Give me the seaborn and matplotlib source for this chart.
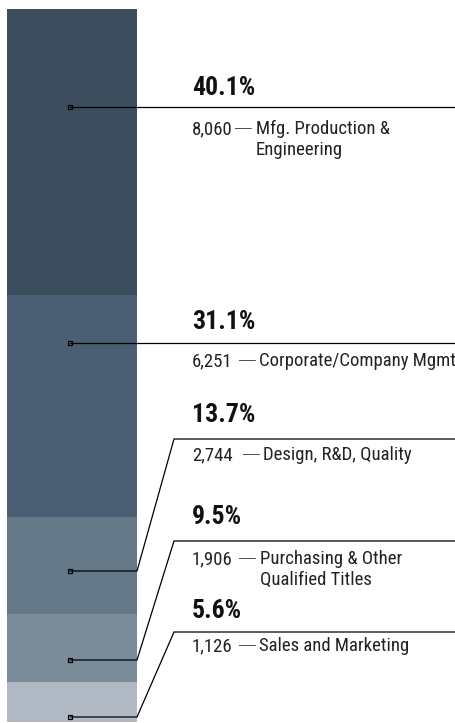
import numpy as np
import pandas as pd
import matplotlib
matplotlib.use("Agg")
import matplotlib.pyplot as plt
import seaborn as sns

# ==============================================================
# DATA
# ==============================================================
CATEGORIES = ["Mfg. Production &\nEngineering", "Corporate/Company Mgmt",
              "Design, R&D, Quality", "Purchasing & Other\nQualified Titles",
              "Sales and Marketing"]
COUNTS = [8060, 6251, 2744, 1906, 1126]
PCT_LABELS = ["40.1%", "31.1%", "13.7%", "9.5%", "5.6%"]
COUNT_LABELS = ["8,060", "6,251", "2,744", "1,906", "1,126"]
COLORS = ["#3b4d5c", "#4a5f73", "#647888", "#7a8b9a", "#b1b9c5"]

# ==============================================================
# LAYOUT (pixels, figure is 455 x 723)
# ==============================================================
W, H = 455, 723
BAR_LEFT, BAR_RIGHT, BAR_TOP, BAR_BOTTOM = 7, 137, 9, 722
MARKER_X = 70
MARKER_Y = [107, 343, 571, 660, 717]
LEADER_Y = [107, 343, 439, 541, 632]
KNEE_X = 174
TEXT_X = 192
PCT_Y = [88, 322, 415, 517, 611]
SUB_BASE = [134, 366, 460, 564, 651]   # baselines of the first sub line
DASH_GAP = [0, 4, 8, 4, 4]
LINE_GAP = 21
PCT_SIZE = 18.5
SUB_SIZE = 13.5

sns.set_theme(style="white")
plt.rcParams["font.family"] = ["Roboto Condensed", "DejaVu Sans"]

fig = plt.figure(figsize=(W / 100, H / 100), dpi=100)

# stacked bar (seaborn barplot, largest cumulative first)
bar_ax = fig.add_axes([BAR_LEFT / W, (H - BAR_BOTTOM) / H,
                       (BAR_RIGHT - BAR_LEFT) / W, (BAR_BOTTOM - BAR_TOP) / H])
df = pd.DataFrame({"cat": CATEGORIES, "count": COUNTS, "color": COLORS})
df["cum"] = df["count"][::-1].cumsum()[::-1]
for _, row in df.iterrows():
    sns.barplot(x=["all"], y=[row["cum"]], color=row["color"], width=1.0,
                saturation=1, edgecolor="none", linewidth=0, ax=bar_ax)
bar_ax.set_xlim(-0.5, 0.5)
bar_ax.set_ylim(0, df["count"].sum())
bar_ax.axis("off")

# annotation layer in pixel coordinates
ax = fig.add_axes([0, 0, 1, 1], zorder=2)
ax.set_xlim(0, W)
ax.set_ylim(H, 0)
ax.axis("off")
ax.patch.set_alpha(0)

fig.canvas.draw()
renderer = fig.canvas.get_renderer()
inv = ax.transData.inverted()


def right_edge(t):
    bb = t.get_window_extent(renderer)
    return inv.transform((bb.x1, bb.y0))[0]


for i in range(len(COUNTS)):
    my, ly = MARKER_Y[i], LEADER_Y[i]
    if my == ly:
        xs, ys = [MARKER_X, W], [my, my]
    else:
        xs = [MARKER_X, BAR_RIGHT, KNEE_X, W]
        ys = [my, my, ly, ly]
    ax.plot(xs, ys, color="black", lw=0.9, solid_joinstyle="miter")
    ax.plot([MARKER_X], [my], marker="s", ms=3.5, mfc="none", mec="black",
            mew=0.9, ls="none")

    ax.text(TEXT_X, PCT_Y[i], PCT_LABELS[i], fontsize=PCT_SIZE, fontweight="bold",
            color="#111111", va="center", ha="left")

    # count, long dash, category name (all on a shared baseline)
    base = SUB_BASE[i]
    t = ax.text(TEXT_X, base, COUNT_LABELS[i], fontsize=SUB_SIZE,
                color="#222222", va="baseline", ha="left")
    d = ax.text(right_edge(t) + DASH_GAP[i], base, "—", fontsize=SUB_SIZE,
                family="DejaVu Sans", fontweight="light", color="#222222",
                va="baseline", ha="left")
    x_name = right_edge(d) + 4
    for j, line in enumerate(CATEGORIES[i].split("\n")):
        ax.text(x_name, base + j * LINE_GAP, line, fontsize=SUB_SIZE,
                color="#222222", va="baseline", ha="left")

fig.savefig("out.png", dpi=100)
